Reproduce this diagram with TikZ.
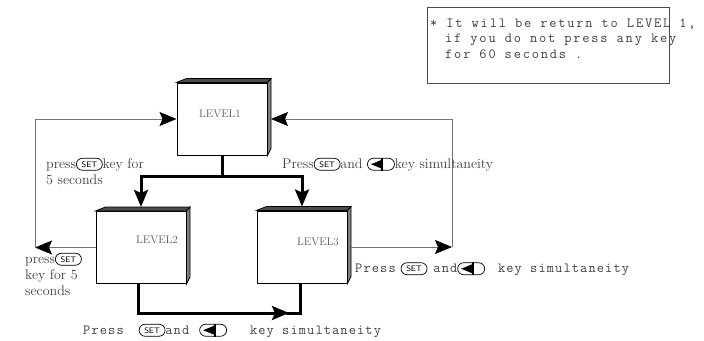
\documentclass[tikz,border=0pt]{standalone}
\usepackage{fontspec}
\usepackage{tikz}
\usetikzlibrary{arrows.meta,calc}

\newfontfamily\monofont{Latin Modern Mono}[LetterSpace=8]
\newfontfamily\notefont{Latin Modern Mono}[LetterSpace=13]

\tikzset{
  level/.style={draw,line width=1pt,fill=white,minimum width=90pt,minimum height=72pt,inner sep=0pt},
  thin line/.style={draw=black!55,line width=0.8pt},
  thick line/.style={draw=black,line width=3pt},
  tip/.style={-{Stealth[length=17pt,width=14pt,inset=3pt,color=black]}},
  keypill/.style={draw=black,line width=0.7pt,rounded corners=6pt,minimum height=12pt,minimum width=26pt,inner sep=0pt,text=black,font=\sffamily\fontsize{8}{9}\selectfont},
  lbl/.style={text=black!75,font=\fontsize{14}{16}\selectfont,inner sep=0pt,align=left},
  mono/.style={text=black!75,font=\monofont\fontsize{14}{15.5}\selectfont,inner sep=0pt,align=left},
  lvltext/.style={text=black!65,font=\fontsize{11}{13}\selectfont,inner sep=0pt}
}

\newcommand\setkey{\tikz[baseline={([yshift=-1pt]k.base)}]\node[keypill] (k) {SET};}
\newcommand\leftkey{\tikz[baseline={([yshift=-1pt]k.base)}]{\node[keypill,minimum width=27pt] (k) {\phantom{SET}};
  \fill[black] ([xshift=-10pt]k.center) -- ([xshift=1pt,yshift=4.5pt]k.center) -- ([xshift=1pt,yshift=-4.5pt]k.center) -- cycle;
  \fill[black] ([xshift=0.5pt]k.north) rectangle ([xshift=2.5pt]k.south);}}

\begin{document}
\begin{tikzpicture}[x=1pt,y=-1pt]
  \path[fill=white,use as bounding box] (0,0) rectangle (704,340);

  \node[level] (l1) at (222,119) {};
  \node[level] (l2) at (141,247.5) {};
  \node[level] (l3) at (302,247) {};

  \filldraw[fill=black!70,line width=0.8pt] (l1.north west) -- ++(10,-4) -- ($(l1.north east)+(3.5,-4)$) -- (l1.north east) -- cycle;
  \filldraw[fill=black!50,line width=0.8pt] (l1.north east) -- ++(3.5,-4) -- ($(l1.south east)+(3.5,-7)$) -- (l1.south east) -- cycle;
  \filldraw[fill=black!70,line width=0.8pt] (l2.north west) -- ++(10,-4) -- ($(l2.north east)+(3.5,-4)$) -- (l2.north east) -- cycle;
  \filldraw[fill=black!50,line width=0.8pt] (l2.north east) -- ++(3.5,-4) -- ($(l2.south east)+(3.5,-7)$) -- (l2.south east) -- cycle;
  \filldraw[fill=black!70,line width=0.8pt] (l3.north west) -- ++(10,-4) -- ($(l3.north east)+(3.5,-4)$) -- (l3.north east) -- cycle;
  \filldraw[fill=black!50,line width=0.8pt] (l3.north east) -- ++(3.5,-4) -- ($(l3.south east)+(3.5,-7)$) -- (l3.south east) -- cycle;

  \node[lvltext] (t1) at (220,113.5) {LEVEL1};
  \node[lvltext] (t2) at (157,240) {LEVEL2};
  \node[lvltext] (t3) at (318,241.5) {LEVEL3};

  \coordinate (fork) at (222,176);
  \coordinate (lft) at (35,247.5);
  \coordinate (rgt) at (452,247);
  \coordinate (btm) at (300,313);

  \draw[thin line,tip] (l2.west) -- (lft);
  \draw[thin line,tip] (lft) |- (l1.west);
  \draw[thin line,tip] ([xshift=3.5pt]l3.east) -- (rgt);
  \draw[thin line,tip] (rgt) |- ([xshift=3.5pt]l1.east);

  \draw[thick line,tip] (l1.south) -- (fork) -| ([yshift=4pt]l2.north);
  \draw[thick line,tip] (fork) -| ([yshift=4pt]l3.north);
  \draw[thick line,tip] ([xshift=-3pt]l2.south) |- ([xshift=-11pt]btm);
  \draw[thick line] ([xshift=-14pt]btm) -- (btm) -- (l3.south -| btm);

  \node[lbl,anchor=base west] (p1) at (46,184) {press\setkey key for\\5 seconds};
  \node[lbl,anchor=base west] (p2) at (25,295) {press\setkey\\key for 5\\seconds};
  \node[lbl,anchor=base west] (p3) at (282,168) {Press\setkey and \leftkey key simultaneity};

  \node[mono,anchor=base west] (m1) at (355,272.5) {Press\hspace{5pt}\setkey\hspace{6pt}and\leftkey\hspace{13pt}key simultaneity};
  \node[mono,anchor=base west] (m2) at (83,334) {Press\hspace{15pt}\setkey and\hspace{10pt}\leftkey\hspace{23pt}key simultaneity};

  \node[draw=black!70,line width=0.8pt,minimum width=242pt,minimum height=76pt,inner sep=0pt] (note) at (548,45) {};
  \node[mono,font=\notefont\fontsize{14}{15.5}\selectfont,anchor=base west] (ntext) at (430,58) {* It will be return to LEVEL 1,\\\hspace{15pt}if you do not press any key\\\hspace{15pt}for 60 seconds .};
\end{tikzpicture}
\end{document}
